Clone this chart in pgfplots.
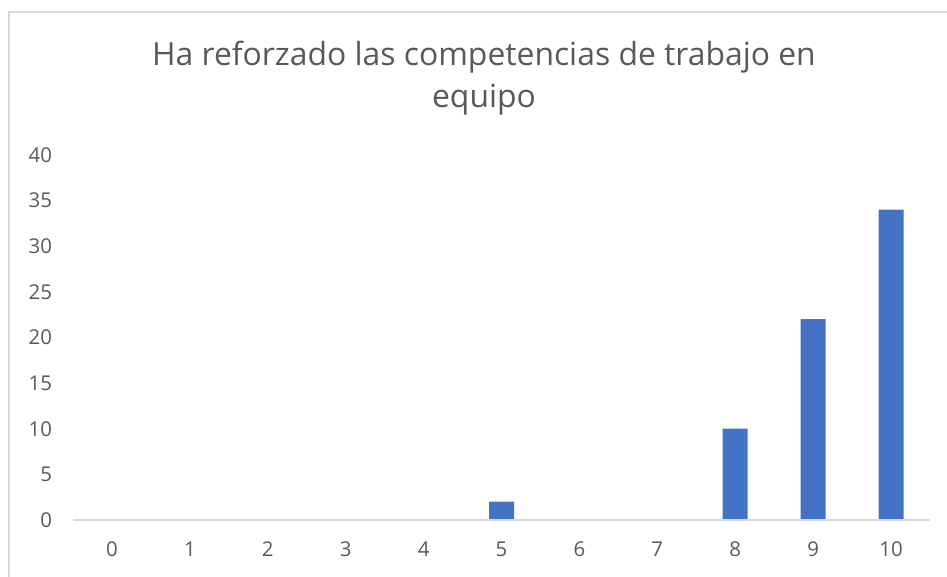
\documentclass[border=0pt]{standalone}
\usepackage{fontspec}
\setmainfont{Open Sans}
\usepackage{pgfplots}
\pgfplotsset{compat=1.18}
\definecolor{barblue}{HTML}{4472C4}
\definecolor{txt}{HTML}{595959}
\definecolor{axgray}{HTML}{D9D9D9}
\begin{document}
\begin{tikzpicture}[x=0.75pt,y=0.75pt]
% page box in pixels of the reference, origin at the axis' lower left corner
\useasboundingbox (-73,-57) rectangle (874,520);
\draw[axgray, line width=1.4pt] (-64,-70) -- (-64,508) -- (890,508);
\begin{axis}[
  at={(0,0)}, anchor=south west, scale only axis,
  width=642.75pt, height=273.75pt,
  xmin=-0.5, xmax=10.5, ymin=0, ymax=40,
  xtick={0,...,10}, ytick={0,5,...,40},
  axis x line*=bottom, axis y line*=left, axis on top,
  y axis line style={draw=none},
  x axis line style={draw=axgray, line width=1.4pt, -},
  major tick length=0pt, tick style={draw=none},
  /pgf/number format/assume math mode=true,
  tick label style={font=\fontsize{15.3}{18}\selectfont, text=txt, inner sep=0pt},
  yticklabel style={anchor=east, xshift=-15.5pt},
  xticklabel style={anchor=north, yshift=-16pt},
  clip=false,
]
\addplot[ybar, fill=barblue, draw=none, bar width=18.75pt] coordinates {
  (0,0) (1,0) (2,0) (3,0) (4,0) (5,2) (6,0) (7,0) (8,10) (9,22) (10,34)};
\end{axis}
\node[font=\fontsize{23.9}{28}\selectfont, text=txt] at (411,463) {Ha reforzado las competencias de trabajo en};
\node[font=\fontsize{23.9}{28}\selectfont, text=txt] at (411,420) {equipo};
\end{tikzpicture}
\end{document}
